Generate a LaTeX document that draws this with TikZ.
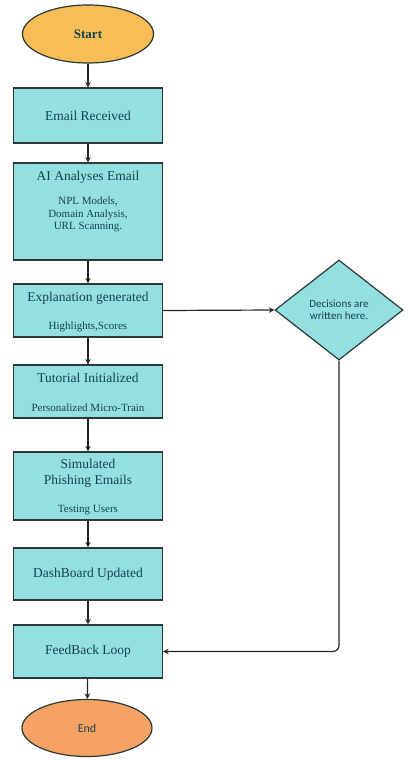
\documentclass[tikz,border=0pt]{standalone}
\usepackage{fontspec}
\setmainfont{Liberation Serif}
\newfontfamily\sansf{Carlito}
\usetikzlibrary{shapes.geometric,arrows.meta}
\definecolor{boxfill}{HTML}{94E0E0}
\definecolor{edge}{HTML}{2A3838}
\definecolor{txt}{HTML}{15424E}
\definecolor{startfill}{HTML}{F8BE55}
\definecolor{endfill}{HTML}{F6A264}
\tikzset{
  procbox/.style={draw=edge, line width=1.2pt, fill=boxfill, minimum width=149pt, inner sep=0pt, text=txt, font=\fontsize{13.5}{15}\selectfont},
  titletext/.style={text=txt, font=\fontsize{13.5}{15}\selectfont, inner sep=0pt, align=center},
  subtext/.style={text=txt, font=\fontsize{11}{12.5}\selectfont, inner sep=0pt, align=center},
  term/.style={ellipse, draw=edge, line width=1.2pt, inner sep=0pt},
  flow/.style={-{Stealth[length=5.5pt,width=5.5pt]}, line width=1.2pt, draw=black!85},
}
\begin{document}
\begin{tikzpicture}[x=1pt,y=-1pt]
\fill[white] (0,0) rectangle (409,760);
\useasboundingbox (0,0) rectangle (409,760);

% terminals
\node[term, fill=startfill, minimum width=131pt, minimum height=58pt, text=txt, font=\bfseries\fontsize{13}{15}\selectfont] (start) at (88,34) {Start};
\node[term, fill=endfill, minimum width=130pt, minimum height=57pt, text=txt, font=\sansf\fontsize{12}{14}\selectfont] (end) at (87,728) {End};

% process boxes
\node[procbox, minimum height=55pt] (email) at (88,115.5) {Email Received};
\node[procbox, minimum height=97pt] (ai) at (88,211.5) {};
\node[procbox, minimum height=53pt] (expl) at (88,310.5) {};
\node[procbox, minimum height=53pt] (tut) at (88,391.5) {};
\node[procbox, minimum height=68pt] (sim) at (88,486) {};
\node[procbox, minimum height=52pt] (dash) at (88,574) {DashBoard Updated};
\node[procbox, minimum height=53pt] (feed) at (88,651.5) {FeedBack Loop};

% texts inside boxes
\node[titletext] (aiT) at (88,177) {AI Analyses Email};
\node[subtext] (aiS) at (88,214.5) {NPL Models,\\Domain Analysis,\\URL Scanning.};
\node[titletext] (explT) at (88,298) {Explanation generated};
\node[subtext] (explS) at (88,327) {Highlights,Scores};
\node[titletext] (tutT) at (88,378) {Tutorial Initialized};
\node[subtext] (tutS) at (88,408) {Personalized Micro-Train};
\node[titletext, font=\fontsize{13.5}{16}\selectfont] (simT) at (88,473) {Simulated\\Phishing Emails};
\node[subtext] (simS) at (88,510) {Testing Users};

% decision
\node[diamond, draw=edge, line width=1.2pt, fill=boxfill, minimum width=128pt, minimum height=100pt, inner sep=0pt, text=txt, align=center, font=\sansf\fontsize{11}{12.5}\selectfont] (dec) at (339,310) {Decisions are\\written here.};

% connectors
\draw[flow] (start) -- (email);
\draw[flow] (email) -- (ai);
\draw[flow] (ai) -- (expl);
\draw[flow] (expl) -- (tut);
\draw[flow] (tut) -- (sim);
\draw[flow] (sim) -- (dash);
\draw[flow] (dash) -- (feed);
\draw[flow] (feed) -- (end);
\draw[flow] (expl.east) -- (dec.west);
\draw[flow, rounded corners=6pt] (dec.south) |- (feed.east);
\end{tikzpicture}
\end{document}
